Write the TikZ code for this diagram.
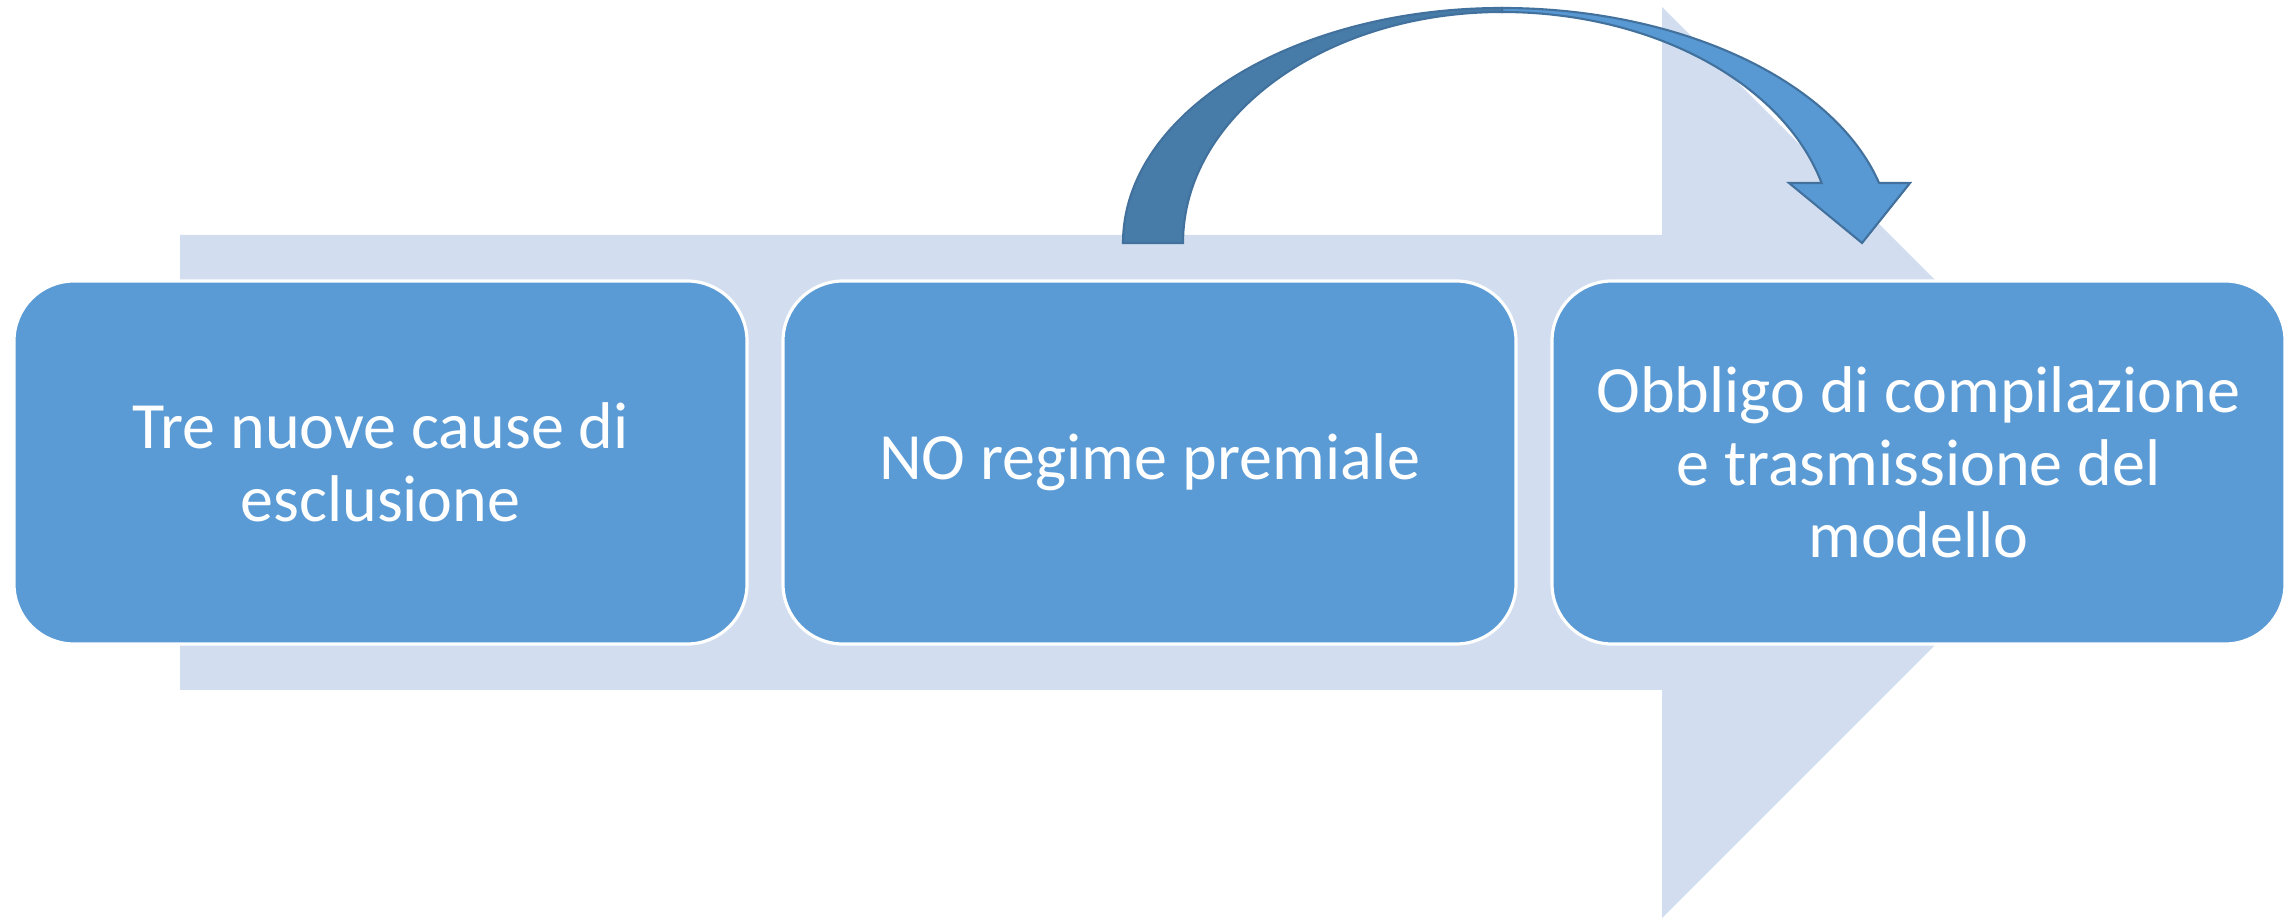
\documentclass[tikz,border=0pt]{standalone}
\usepackage{fontspec}
\setmainfont{Carlito}
\definecolor{bgarrow}{RGB}{210,222,239}
\definecolor{boxblue}{RGB}{91,155,213}
\definecolor{darkband}{RGB}{71,123,168}
\definecolor{lightband}{RGB}{89,153,211}
\definecolor{bandline}{RGB}{65,113,156}
\tikzset{
  stepbox/.style={rounded corners=0.6cm, fill=boxblue, draw=white, line width=0.9pt,
    minimum width=7.33cm, minimum height=3.63cm, text=white, align=center,
    font=\fontsize{18.8}{20.6}\selectfont, inner sep=0pt},
  band/.style={draw=bandline, line width=0.6pt, line join=miter}
}
\begin{document}
\begin{tikzpicture}
\useasboundingbox (0,0) rectangle (22.95,9.18);
% big background arrow
\fill[bgarrow] (1.80,6.83) -- (16.62,6.83) -- (16.62,9.11) -- (21.175,4.555)
  -- (16.62,0) -- (16.62,2.28) -- (1.80,2.28) -- cycle;
% curved arrow: light front part
\filldraw[band, fill=lightband] (15.02,9.10) arc[start angle=90, end angle=14.8, x radius=3.90, y radius=2.35]
  -- (19.10,7.35) -- (18.62,6.75) -- (17.89,7.35) -- (18.216,7.35)
  arc[start angle=15.06, end angle=90, x radius=3.31, y radius=2.31] -- cycle;
% curved arrow: dark back part
\filldraw[band, fill=darkband] (11.23,6.75) arc[start angle=180, end angle=90, x radius=3.79, y radius=2.35]
  -- (15.02,9.06) arc[start angle=90, end angle=180, x radius=3.19, y radius=2.31] -- cycle;
% boxes
\node[stepbox] (b1) at (3.805,4.555) {Tre nuove cause di\\esclusione};
\node[stepbox] (b2) at (11.495,4.555) {NO regime premiale};
\node[stepbox] (b3) at (19.185,4.555) {Obbligo di compilazione\\e trasmissione del\\modello};
\end{tikzpicture}
\end{document}
